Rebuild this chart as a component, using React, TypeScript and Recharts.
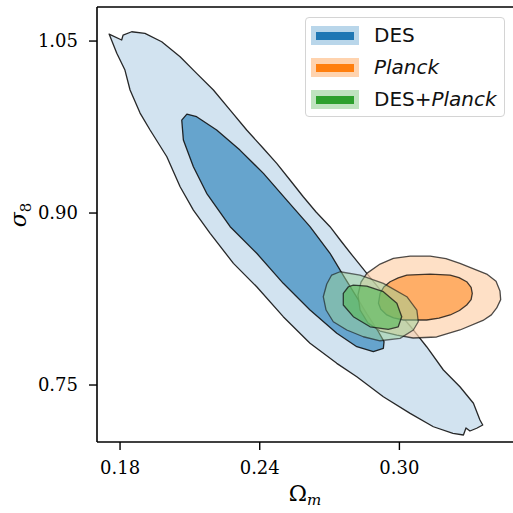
import React from "react";
import {
  ScatterChart,
  Scatter,
  XAxis,
  YAxis,
  ReferenceLine,
} from "recharts";

// axis settings
const X_DOMAIN: [number, number] = [0.1701, 0.3518];
const Y_DOMAIN: [number, number] = [0.7003, 1.0797];
const X_TICKS = [0.18, 0.24, 0.3];
const Y_TICKS = [0.75, 0.9, 1.05];

// contour outlines as [Omega_m, sigma_8] pairs
const DES_OUTER: [number, number][] = [
  [0.1753, 1.0561], [0.1807, 1.0509], [0.1813, 1.0552], [0.185, 1.0581],
  [0.1907, 1.0567], [0.1979, 1.0494], [0.2058, 1.0363], [0.2129, 1.0218],
  [0.2201, 1.0073], [0.2273, 0.9898], [0.2344, 0.9724], [0.2414, 0.9567],
  [0.2473, 0.9433], [0.253, 0.9288], [0.2587, 0.9142], [0.2642, 0.9009],
  [0.2702, 0.8881], [0.2749, 0.8756], [0.2802, 0.8619], [0.286, 0.8474],
  [0.296, 0.8224], [0.3046, 0.8015], [0.3117, 0.7834], [0.3189, 0.7631],
  [0.326, 0.7485], [0.3318, 0.7341], [0.3346, 0.7195], [0.3358, 0.7151],
  [0.3332, 0.7123], [0.3303, 0.7099], [0.3286, 0.7125], [0.3275, 0.7064],
  [0.323, 0.7079], [0.3146, 0.7136], [0.3046, 0.7253], [0.2931, 0.7398],
  [0.2817, 0.7572], [0.2731, 0.7689], [0.2616, 0.7864], [0.2501, 0.8096],
  [0.2387, 0.8357], [0.2287, 0.8561], [0.2187, 0.8823], [0.2115, 0.9026],
  [0.2058, 0.9229], [0.2001, 0.9491], [0.1929, 0.9724], [0.1886, 0.9872],
  [0.1843, 1.0073], [0.1821, 1.0247], [0.1786, 1.0393],
];

const DES_INNER: [number, number][] = [
  [0.2087, 0.9863], [0.2129, 0.984], [0.2215, 0.9724], [0.2315, 0.9549],
  [0.2416, 0.9346], [0.2516, 0.9113], [0.2616, 0.8881], [0.2702, 0.8649],
  [0.2766, 0.8433], [0.2814, 0.8276], [0.2861, 0.8119], [0.2908, 0.7971],
  [0.2934, 0.7878], [0.2931, 0.782], [0.2888, 0.7791], [0.2817, 0.7834],
  [0.2731, 0.7951], [0.2616, 0.8154], [0.2501, 0.8387], [0.2387, 0.8649],
  [0.2273, 0.8881], [0.2172, 0.9172], [0.2115, 0.9404], [0.2072, 0.9637],
  [0.2065, 0.9811],
];

const PLANCK_OUTER: [number, number][] = [
  [0.286, 0.8474], [0.2917, 0.8555], [0.2974, 0.8605], [0.3046, 0.8625],
  [0.3132, 0.8625], [0.32, 0.8603], [0.326, 0.8561], [0.3375, 0.8468],
  [0.3415, 0.8405], [0.3432, 0.832], [0.3435, 0.8245], [0.3418, 0.8172],
  [0.3395, 0.8112], [0.3359, 0.8063], [0.326, 0.798], [0.316, 0.7919],
  [0.3059, 0.791], [0.2989, 0.7936], [0.2917, 0.7971], [0.2865, 0.8041],
  [0.2831, 0.8154], [0.2822, 0.8285], [0.2835, 0.8398],
];

const PLANCK_INNER: [number, number][] = [
  [0.291, 0.8213], [0.2917, 0.83], [0.2933, 0.8355], [0.296, 0.8401],
  [0.2995, 0.8435], [0.3032, 0.8459], [0.3132, 0.8468], [0.3218, 0.8459],
  [0.3256, 0.8437], [0.3289, 0.8401], [0.3308, 0.8352], [0.3313, 0.83],
  [0.3308, 0.8245], [0.3289, 0.8198], [0.3258, 0.815], [0.3218, 0.8111],
  [0.317, 0.8083], [0.3117, 0.8067], [0.3017, 0.8067], [0.2975, 0.8085],
  [0.2946, 0.8111], [0.292, 0.816],
];

const JOINT_OUTER: [number, number][] = [
  [0.2709, 0.8459], [0.2745, 0.8488], [0.2831, 0.8459], [0.2931, 0.8387],
  [0.3032, 0.827], [0.3075, 0.8154], [0.3081, 0.8052], [0.306, 0.798],
  [0.3003, 0.7907], [0.2917, 0.7886], [0.2845, 0.7921], [0.2774, 0.798],
  [0.2716, 0.8052], [0.2685, 0.8154], [0.2673, 0.827], [0.2688, 0.8381],
];

const JOINT_INNER: [number, number][] = [
  [0.2781, 0.8357], [0.2802, 0.8372], [0.286, 0.8363], [0.2931, 0.8314],
  [0.2989, 0.8213], [0.301, 0.8096], [0.2995, 0.8008], [0.2952, 0.7986],
  [0.2874, 0.8008], [0.2802, 0.8096], [0.2759, 0.8198], [0.2759, 0.83],
];

const toPoints = (arr: [number, number][]) => arr.map(([x, y]) => ({ x, y }));

// contour layers, drawn in this order
const layers = [
  { data: DES_OUTER, fill: "#d2e3f0", fillOpacity: 1, strokeOpacity: 0.9 },
  { data: DES_INNER, fill: "#66a4cd", fillOpacity: 1, strokeOpacity: 0.9 },
  { data: PLANCK_OUTER, fill: "#fdd3ae", fillOpacity: 0.7, strokeOpacity: 0.75 },
  { data: PLANCK_INNER, fill: "#ffa85c", fillOpacity: 0.9, strokeOpacity: 0.8 },
  { data: JOINT_OUTER, fill: "#98d098", fillOpacity: 0.5, strokeOpacity: 0.6 },
  { data: JOINT_INNER, fill: "#5cb85c", fillOpacity: 0.65, strokeOpacity: 0.75 },
];

const legendItems = [
  { light: "#b9d6ea", dark: "#1f77b4", label: <>DES</> },
  { light: "#ffd3ae", dark: "#ff7f0e", label: <i>Planck</i> },
  { light: "#bfe3bf", dark: "#2ca02c", label: <>DES+<i>Planck</i></> },
];

const serif = "DejaVu Serif";

export default function App() {
  return (
    <div
      style={{
        position: "absolute",
        left: 0,
        top: 0,
        width: 513,
        height: 513,
        overflow: "hidden",
        background: "#fff",
      }}
    >
      <ScatterChart
        width={560}
        height={513}
        margin={{ top: 7, right: 40, left: 0, bottom: 0 }}
      >
        <XAxis
          type="number"
          dataKey="x"
          domain={X_DOMAIN}
          ticks={X_TICKS}
          allowDataOverflow
          height={71}
          tickSize={8}
          tickMargin={11}
          tickFormatter={(v: number) => v.toFixed(2)}
          tick={{ fill: "#000", fontSize: 18, fontFamily: serif }}
          axisLine={{ stroke: "#000", strokeWidth: 1.6 }}
          tickLine={{ stroke: "#000", strokeWidth: 1.4 }}
          label={{
            content: () => (
              <text
                x={305}
                y={501}
                textAnchor="middle"
                fontFamily={serif}
                fontSize={22}
                fill="#000"
              >
                Ω
                <tspan fontStyle="italic" fontSize={15} dy={4}>
                  m
                </tspan>
              </text>
            ),
          }}
        />
        <YAxis
          type="number"
          dataKey="y"
          domain={Y_DOMAIN}
          ticks={Y_TICKS}
          allowDataOverflow
          width={97}
          tickSize={8}
          tickMargin={11}
          tickFormatter={(v: number) => v.toFixed(2)}
          tick={{ fill: "#000", fontSize: 18, fontFamily: serif }}
          axisLine={{ stroke: "#000", strokeWidth: 1.6 }}
          tickLine={{ stroke: "#000", strokeWidth: 1.4 }}
          label={{
            content: () => (
              <text
                x={26}
                y={215}
                transform="rotate(-90, 26, 215)"
                textAnchor="middle"
                fontFamily={serif}
                fontSize={22}
                fill="#000"
              >
                <tspan fontStyle="italic">σ</tspan>
                <tspan fontSize={15} dy={5}>
                  8
                </tspan>
              </text>
            ),
          }}
        />
        <ReferenceLine y={Y_DOMAIN[1]} stroke="#000" strokeWidth={1.6} />
        {layers.map((l, i) => (
          <Scatter
            key={i}
            data={toPoints(l.data)}
            isAnimationActive={false}
            legendType="none"
            shape={() => <g />}
            lineJointType="linearClosed"
            line={{
              fill: l.fill,
              fillOpacity: l.fillOpacity,
              stroke: "#111",
              strokeOpacity: l.strokeOpacity,
              strokeWidth: 1.3,
              strokeLinejoin: "round",
            }}
          />
        ))}
      </ScatterChart>

      {/* legend box */}
      <div
        style={{
          position: "absolute",
          left: 305,
          top: 17,
          width: 198,
          height: 98,
          border: "1.5px solid #d4d4d4",
          borderRadius: 4,
          background: "rgba(255,255,255,0.85)",
          fontFamily: "DejaVu Sans",
          fontSize: 20,
          color: "#111",
        }}
      >
        {legendItems.map((it, i) => (
          <div
            key={i}
            style={{
              position: "absolute",
              left: 0,
              top: 7 + i * 32,
              height: 20,
              display: "flex",
              alignItems: "center",
            }}
          >
            <div
              style={{
                position: "relative",
                marginLeft: 5,
                width: 48,
                height: 19,
                background: it.light,
              }}
            >
              <div
                style={{
                  position: "absolute",
                  left: 5,
                  top: 6,
                  width: 38,
                  height: 8,
                  background: it.dark,
                }}
              />
            </div>
            <span style={{ marginLeft: 15, lineHeight: "20px" }}>{it.label}</span>
          </div>
        ))}
      </div>
    </div>
  );
}
